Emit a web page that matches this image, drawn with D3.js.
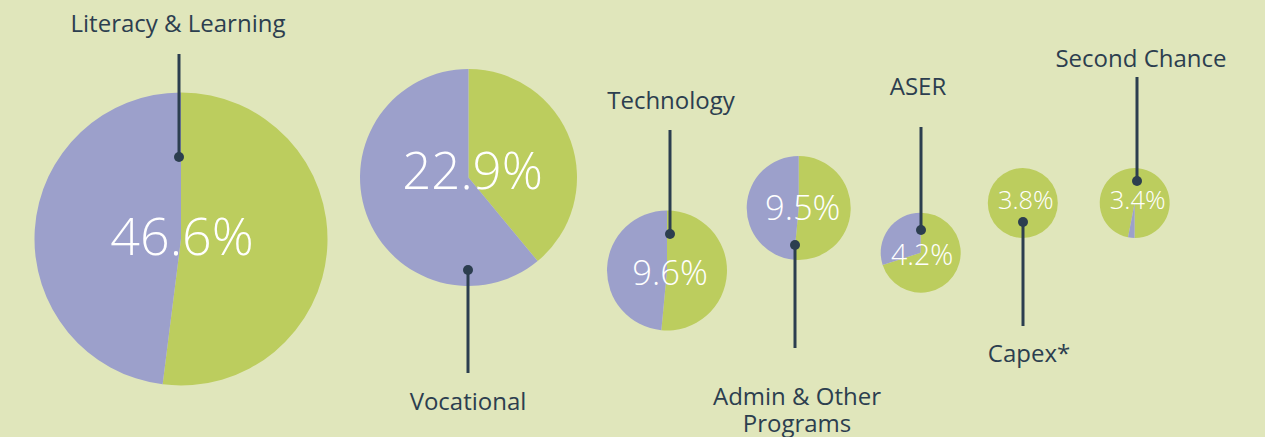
<!DOCTYPE html>
<meta charset="utf-8">
<style>
  body { margin: 0; background: #e0e6bb; }
  svg { display: block; }
  .label { font-family: 'Open Sans', sans-serif; font-size: 24px; fill: #2c3e4f; text-anchor: middle; }
  .pct { font-family: 'Open Sans', sans-serif; font-weight: 300; fill: #ffffff; text-anchor: middle; }
  .pin { stroke: #2c3e4f; stroke-width: 3; }
  .dot { fill: #2c3e4f; }
</style>
<body>
<script src="https://d3js.org/d3.v7.min.js"></script>
<script>

// data
var programs = ["Literacy & Learning", "Vocational", "Technology", "Admin & Other\nPrograms",
                "ASER", "Capex*", "Second Chance"];
var budgetShare = [46.6, 22.9, 9.6, 9.5, 4.2, 3.8, 3.4];
var greenPart = [52, 39, 51.5, 51.5, 70, 100, 97];
var purplePart = [48, 61, 48.5, 48.5, 30, 0, 3];

// layout (pixels)
var pieX = [181, 468.5, 667, 798.7, 920.7, 1022.8, 1134.7],
    pieY = [239, 177.5, 270.5, 208, 252.7, 203, 203],
    pieR = [146.5, 108.5, 60, 52, 40, 35, 35],
    pieStart = [0, 0, 0, 0, 0, 0, 191];
var pctSize = [52, 51, 34.5, 34.5, 28.5, 25.5, 25.5],
    pctDx = [1, 4, 3, 4, 1.5, 3, 3],
    pctDy = [16, 11, 14, 11.5, 12.5, 5.5, 5.5];
var pinX = [179, 468, 670, 795, 921, 1023, 1137],
    pinDot = [157, 270, 234, 245, 230, 222, 181],
    pinEnd = [54, 373, 130, 348, 127, 326, 77],
    labelY = [32, 410, 109, 405, 95, 362, 67],
    labelDx = [-1, 0, 1, 2, -3, 6, 4];

var width = 1265,
    height = 437;

var color = d3.scaleOrdinal()
    .domain(["green", "purple"])
    .range(["#bccd5e", "#9ca0cb"]);

var svg = d3.select("body").append("svg")
    .attr("width", width)
    .attr("height", height);

var rows = programs.map(function(name, i) {
  return {
    name: name, share: budgetShare[i],
    parts: [{key: "green", value: greenPart[i]}, {key: "purple", value: purplePart[i]}],
    i: i
  };
});

var g = svg.selectAll("g.pie")
    .data(rows)
  .enter().append("g")
    .attr("class", "pie")
    .attr("transform", d => "translate(" + pieX[d.i] + "," + pieY[d.i] + ")");

g.selectAll("path")
    .data(function(d) {
      var a0 = pieStart[d.i] * Math.PI / 180;
      return d3.pie().sort(null).value(p => p.value)
        .startAngle(a0).endAngle(a0 + 2 * Math.PI)(d.parts)
        .map(p => Object.assign(p, {r: pieR[d.i]}));
    })
  .enter().append("path")
    .attr("fill", p => color(p.data.key))
    .attr("d", p => d3.arc().innerRadius(0).outerRadius(p.r)(p));

g.append("text")
    .attr("class", "pct")
    .attr("x", d => pctDx[d.i])
    .attr("y", d => pctDy[d.i])
    .style("font-size", d => pctSize[d.i] + "px")
    .text(d => d.share + "%");

// leader pins
svg.selectAll("line.pin")
    .data(rows)
  .enter().append("line")
    .attr("class", "pin")
    .attr("x1", d => pinX[d.i]).attr("x2", d => pinX[d.i])
    .attr("y1", d => pinEnd[d.i]).attr("y2", d => pinDot[d.i]);

svg.selectAll("circle.dot")
    .data(rows)
  .enter().append("circle")
    .attr("class", "dot")
    .attr("cx", d => pinX[d.i])
    .attr("cy", d => pinDot[d.i])
    .attr("r", 5);

var labels = svg.selectAll("text.label")
    .data(rows)
  .enter().append("text")
    .attr("class", "label")
    .attr("y", d => labelY[d.i]);

labels.selectAll("tspan")
    .data(d => d.name.split("\n").map(t => ({t: t, i: d.i})))
  .enter().append("tspan")
    .attr("x", d => pinX[d.i] + labelDx[d.i])
    .attr("dy", (d, k) => k ? 27 : 0)
    .text(d => d.t);

</script>
